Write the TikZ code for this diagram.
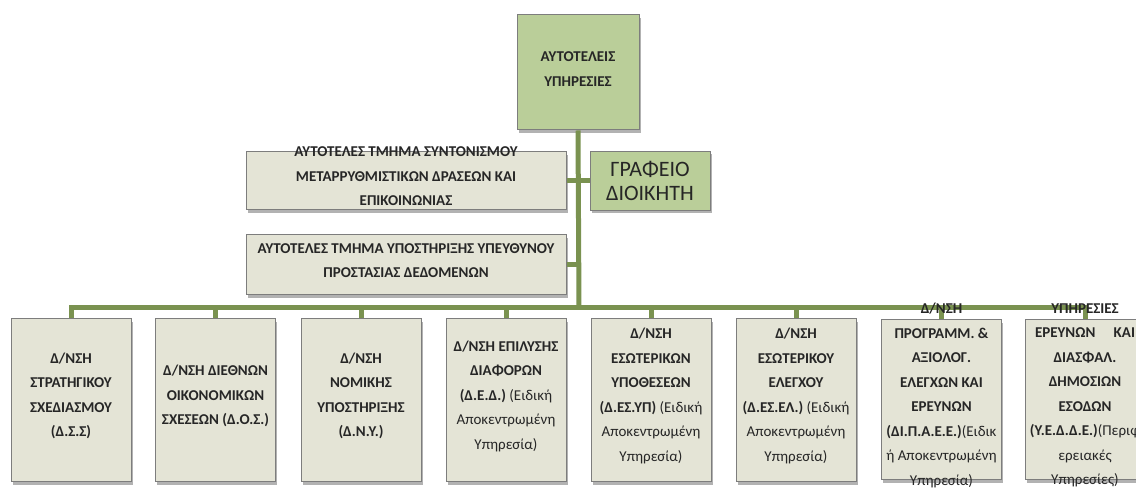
\documentclass[tikz,border=0pt]{standalone}
\usepackage{fontspec}
\setmainfont{Carlito}
\usetikzlibrary{shadows}
\definecolor{boxgreen}{RGB}{186,206,153}
\definecolor{boxgray}{RGB}{228,228,214}
\definecolor{edgegray}{RGB}{125,125,125}
\definecolor{linegreen}{RGB}{122,146,80}
\definecolor{txt}{RGB}{38,38,38}
\tikzset{
  orgbox/.style={draw=edgegray, line width=1pt, fill=boxgray, inner sep=0pt,
    drop shadow={shadow xshift=1.5pt, shadow yshift=-3pt, opacity=0.3, fill=black}},
  greenbox/.style={orgbox, fill=boxgreen},
  unitbox/.style={orgbox, minimum width=120pt, minimum height=163pt},
  boxtext/.style={text=txt, align=center, inner sep=0pt, font=\fontsize{15}{24.5}\selectfont\bfseries},
  bigtext/.style={text=txt, align=center, inner sep=0pt, font=\fontsize{22}{24}\selectfont},
  conn/.style={draw=linegreen, line width=5pt},
}
\begin{document}
\begin{tikzpicture}[x=1pt,y=1pt]
\useasboundingbox (0,0) rectangle (1136,489);
\clip (0,0) rectangle (1136,489);
% boxes
\node[greenbox, minimum width=122pt, minimum height=115pt] (top) at (578,416.5) {};
\node[orgbox, minimum width=320pt, minimum height=58pt] (b2) at (406,308) {};
\node[greenbox, minimum width=120pt, minimum height=59pt] (gov) at (650,308) {};
\node[orgbox, minimum width=320pt, minimum height=60pt] (b3) at (406,224) {};
\node[unitbox] (d1) at (71,88.5) {};
\node[unitbox] (d2) at (215.5,88.5) {};
\node[unitbox] (d3) at (361,88.5) {};
\node[unitbox] (d4) at (506,88.5) {};
\node[unitbox] (d5) at (651,88.5) {};
\node[unitbox] (d6) at (796,88.5) {};
\node[unitbox, minimum height=160pt] (d7) at (941.5,89) {};
\node[unitbox, minimum height=160pt] (d8) at (1085,89) {};
\coordinate (bus) at (579,181);
% connectors
\draw[conn] (top.south) -- (bus);
\draw[conn] (b2.east) -- (gov.west);
\draw[conn] (b3.east) -- (b3.east -| bus);
\draw[conn] (d1.north) -- (d1.north |- bus) -- (d8.north |- bus) -- (d8.north);
\foreach \n in {d2,d3,d4,d5,d6,d7}{\draw[conn] (\n.north) -- (\n.north |- bus);}
% texts
\node[boxtext, font=\fontsize{15}{25}\selectfont\bfseries] at ([yshift=3pt]top.center) {ΑΥΤΟΤΕΛΕΙΣ\\ΥΠΗΡΕΣΙΕΣ};
\node[boxtext] at ([yshift=4.5pt]b2.center) {ΑΥΤΟΤΕΛΕΣ ΤΜΗΜΑ ΣΥΝΤΟΝΙΣΜΟΥ\\ΜΕΤΑΡΡΥΘΜΙΣΤΙΚΩΝ ΔΡΑΣΕΩΝ ΚΑΙ\\ΕΠΙΚΟΙΝΩΝΙΑΣ};
\node[bigtext] at (gov.center) {ΓΡΑΦΕΙΟ\\ΔΙΟΙΚΗΤΗ};
\node[boxtext] at ([yshift=4.5pt]b3.center) {ΑΥΤΟΤΕΛΕΣ ΤΜΗΜΑ ΥΠΟΣΤΗΡΙΞΗΣ ΥΠΕΥΘΥΝΟΥ\\ΠΡΟΣΤΑΣΙΑΣ ΔΕΔΟΜΕΝΩΝ};
\node[boxtext] at ([yshift=4.5pt]d1.center) {Δ/ΝΣΗ\\ΣΤΡΑΤΗΓΙΚΟΥ\\ΣΧΕΔΙΑΣΜΟΥ\\(Δ.Σ.Σ)};
\node[boxtext] at ([yshift=4.5pt]d2.center) {Δ/ΝΣΗ ΔΙΕΘΝΩΝ\\ΟΙΚΟΝΟΜΙΚΩΝ\\ΣΧΕΣΕΩΝ (Δ.Ο.Σ.)};
\node[boxtext] at ([yshift=4.5pt]d3.center) {Δ/ΝΣΗ\\ΝΟΜΙΚΗΣ\\ΥΠΟΣΤΗΡΙΞΗΣ\\(Δ.Ν.Υ.)};
\node[boxtext] at ([yshift=4.5pt]d4.center) {Δ/ΝΣΗ ΕΠΙΛΥΣΗΣ\\ΔΙΑΦΟΡΩΝ\\(Δ.Ε.Δ.) {\mdseries(Ειδική}\\{\mdseries Αποκεντρωμένη}\\{\mdseries Υπηρεσία)}};
\node[boxtext] at ([yshift=4.5pt]d5.center) {Δ/ΝΣΗ\\ΕΣΩΤΕΡΙΚΩΝ\\ΥΠΟΘΕΣΕΩΝ\\(Δ.ΕΣ.ΥΠ) {\mdseries(Ειδική}\\{\mdseries Αποκεντρωμένη}\\{\mdseries Υπηρεσία)}};
\node[boxtext] at ([yshift=4.5pt]d6.center) {Δ/ΝΣΗ\\ΕΣΩΤΕΡΙΚΟΥ\\ΕΛΕΓΧΟΥ\\(Δ.ΕΣ.ΕΛ.) {\mdseries(Ειδική}\\{\mdseries Αποκεντρωμένη}\\{\mdseries Υπηρεσία)}};
\node[boxtext] at ([yshift=4.5pt]d7.center) {Δ/ΝΣΗ\\ΠΡΟΓΡΑΜΜ. \&\\ΑΞΙΟΛΟΓ.\\ΕΛΕΓΧΩΝ ΚΑΙ\\ΕΡΕΥΝΩΝ\\(ΔΙ.Π.Α.Ε.Ε.){\mdseries(Ειδικ}\\{\mdseries ή Αποκεντρωμένη}\\{\mdseries Υπηρεσία)}};
\node[boxtext] at ([yshift=4.5pt]d8.center) {ΥΠΗΡΕΣΙΕΣ\\\makebox[100pt]{ΕΡΕΥΝΩΝ\hfill ΚΑΙ}\\ΔΙΑΣΦΑΛ.\\ΔΗΜΟΣΙΩΝ\\ΕΣΟΔΩΝ\\(Υ.Ε.Δ.Δ.Ε.){\mdseries(Περιφ}\\{\mdseries ερειακές}\\{\mdseries Υπηρεσίες)}};
\end{tikzpicture}
\end{document}
